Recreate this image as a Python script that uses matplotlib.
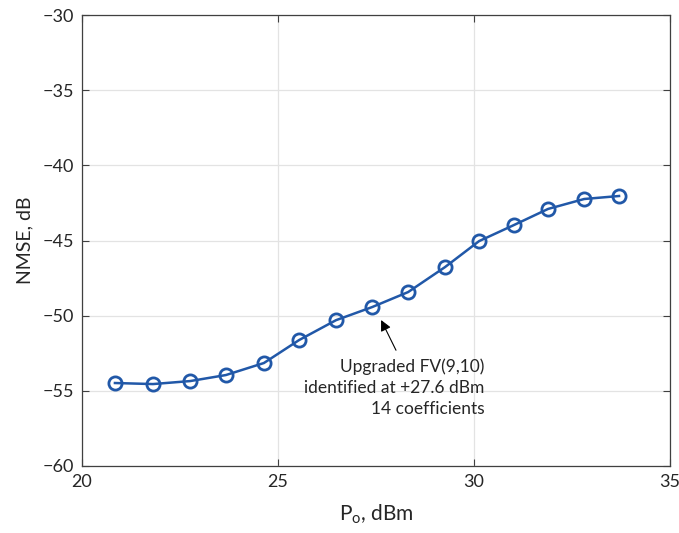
import numpy as np
import matplotlib.pyplot as plt

plt.rcParams['font.family'] = ['Lato', 'DejaVu Sans']

# Output power (dBm) and NMSE (dB)
p_out = [20.84, 21.81, 22.76, 23.67, 24.64, 25.54, 26.48, 27.40,
         28.32, 29.26, 30.13, 31.02, 31.89, 32.81, 33.70]
nmse = [-54.48, -54.55, -54.35, -53.95, -53.15, -51.62, -50.30, -49.43,
        -48.43, -46.77, -45.04, -43.97, -42.90, -42.24, -42.04]

x_ticks = [20, 25, 30, 35]
y_ticks = [-60, -55, -50, -45, -40, -35, -30]

fig = plt.figure(figsize=(6.79, 5.33), dpi=100)
ax = fig.add_axes([82/679, 1 - 466/533, 588/679, 451/533])

ax.plot(p_out, nmse, '-o', color='#2158a8', lw=1.8, ms=9.5,
        mfc='none', mew=2.0, zorder=3)

ax.set_xlim(20, 35)
ax.set_ylim(-60, -30)
ax.set_xticks(x_ticks)
ax.set_yticks(y_ticks)
ax.set_yticklabels(['\u2212%d' % abs(v) for v in y_ticks])
ax.grid(True, color='#e3e3e3', lw=0.9)
ax.set_axisbelow(True)
ax.tick_params(direction='in', top=True, right=True, length=5,
               labelsize=13, colors='#404040', labelcolor='#262626', pad=6)
for s in ax.spines.values():
    s.set_color('#404040')
    s.set_linewidth(0.9)

ax.set_xlabel(r'P$_\mathregular{o}$, dBm', fontsize=15, color='#262626',
              labelpad=9)
ax.set_ylabel('NMSE, dB', fontsize=14, color='#262626', labelpad=6)

# arrow pointing at the identification point
ax.annotate('', xy=(27.63, -50.29), xytext=(28.01, -52.3),
            arrowprops=dict(arrowstyle='-|>', color='black', lw=0.8,
                            shrinkA=0, shrinkB=0, mutation_scale=16))
ax.text(30.26, -52.85,
        'Upgraded FV(9,10)\nidentified at +27.6 dBm\n14 coefficients',
        ha='right', va='top', fontsize=12.5, color='#262626',
        linespacing=1.4)

fig.savefig('out.png', dpi=100)
